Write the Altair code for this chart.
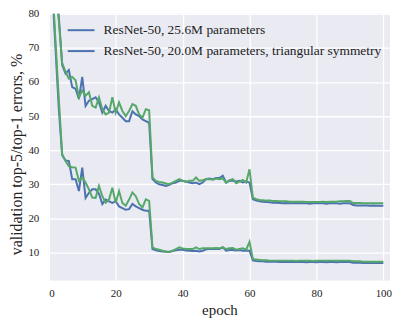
import altair as alt
import pandas as pd

epochs = list(range(1, 101))

models = ["ResNet-50, 25.6M parameters",
          "ResNet-50, 20.0M parameters, triangular symmetry"]

# top-1 error, baseline (blue)
top1_a = [95, 89, 79, 65, 62.5, 63.5, 58.5, 58, 55, 61.5,
          53, 54.5, 55, 55.5, 54, 51, 53, 51.5, 51, 52,
          50.5, 49.5, 48.5, 48.5, 51.4, 50.5, 50, 49, 48.5, 48,
          31.5, 30.5, 30, 29.8, 29.5, 29.8, 30.3, 30.5, 31, 31,
          30.8, 30.5, 30.3, 30.5, 30, 30.5, 31.5, 31.7, 31.5, 31.8,
          31.8, 32.5, 30.5, 31, 31, 30.8, 31, 30.5, 30.8, 30.5,
          25.6, 25.2, 25.0, 24.9, 24.8, 24.7, 24.6, 24.6, 24.5, 24.4,
          24.5, 24.4, 24.4, 24.5, 24.4, 24.4, 24.4, 24.3, 24.4, 24.4,
          24.4, 24.4, 24.3, 24.4, 24.4, 24.4, 24.3, 24.4, 24.4, 24.4,
          23.9, 23.8, 23.8, 23.8, 23.8, 23.7, 23.8, 23.7, 23.7, 23.7]

# top-1 error, triangular symmetry (green)
top1_b = [97, 88, 78, 65.5, 63, 61, 61.5, 60.5, 55.5, 57.5,
          56, 57, 53, 52.5, 55.5, 52, 50.5, 51, 55.5, 51,
          54, 51.5, 50, 51.5, 53.5, 53, 50.5, 49.5, 52, 51.7,
          32, 31, 30.7, 30.5, 30.2, 30, 30.5, 31, 31.5, 31,
          30.7, 31, 31, 32, 31, 31.2, 31.5, 31.5, 31.3, 31.7,
          31.5, 31.7, 30.5, 31.2, 31.5, 30.3, 30.8, 31.3, 30.5, 34.4,
          26.1, 25.6, 25.4, 25.3, 25.2, 25.2, 25.1, 25.1, 25.0, 25.0,
          25.0, 24.9, 24.9, 24.9, 24.9, 24.9, 24.8, 24.8, 24.8, 24.8,
          24.8, 24.9, 24.8, 24.9, 24.9, 24.9, 25.0, 25.0, 25.1, 25.1,
          24.5, 24.5, 24.5, 24.4, 24.4, 24.4, 24.4, 24.4, 24.4, 24.4]

# top-5 error, baseline (blue)
top5_a = [88, 70, 52, 38.5, 37, 36.8, 31.5, 31.5, 28, 34.9,
          26, 27.5, 28.5, 28.5, 27.2, 24.2, 25.5, 25, 24.5, 25,
          23.5, 23, 22.5, 22.7, 24.2, 23.5, 23, 22.5, 22.2, 22.2,
          11, 10.6, 10.4, 10.3, 10.2, 10.1, 10.4, 10.6, 10.8, 10.8,
          10.6, 10.5, 10.4, 10.5, 10.3, 10.5, 10.9, 11, 11, 11,
          11, 11.5, 10.5, 10.7, 10.7, 10.6, 10.7, 10.5, 10.6, 10.5,
          7.7, 7.5, 7.4, 7.4, 7.3, 7.3, 7.3, 7.3, 7.2, 7.2,
          7.2, 7.2, 7.2, 7.2, 7.2, 7.2, 7.1, 7.2, 7.2, 7.1,
          7.2, 7.2, 7.1, 7.2, 7.2, 7.1, 7.2, 7.2, 7.2, 7.2,
          7.0, 7.0, 7.0, 6.9, 7.0, 6.9, 6.9, 6.9, 6.9, 6.9]

# top-5 error, triangular symmetry (green)
top5_b = [90, 72, 55, 38.8, 36.8, 35.3, 35, 34.9, 31, 32,
          30.5, 28.5, 26.1, 26, 29.5, 26.5, 24.6, 25.5, 29, 24.6,
          28, 24.5, 23.7, 25.5, 27.6, 26.5, 24.2, 23.2, 25.6, 25.1,
          11.5, 11, 10.8, 10.5, 10.3, 10.2, 10.5, 11, 11.5, 11.2,
          11, 11, 11, 11.5, 11, 11.2, 11.2, 11.2, 11.2, 11.3,
          11.2, 11.5, 11, 11.2, 11.3, 10.8, 11, 11.2, 10.8, 13.1,
          8.1, 7.9, 7.8, 7.7, 7.7, 7.6, 7.6, 7.6, 7.6, 7.6,
          7.6, 7.6, 7.6, 7.5, 7.6, 7.6, 7.6, 7.6, 7.5, 7.6,
          7.6, 7.6, 7.6, 7.6, 7.6, 7.6, 7.6, 7.6, 7.6, 7.6,
          7.4, 7.4, 7.4, 7.3, 7.3, 7.3, 7.3, 7.3, 7.3, 7.3]

x_ticks = [0, 20, 40, 60, 80, 100]
y_ticks = [10, 20, 30, 40, 50, 60, 70, 80]

rows = []
for series, model, metric in [(top1_a, models[0], "top1"), (top5_a, models[0], "top5"),
                              (top1_b, models[1], "top1"), (top5_b, models[1], "top5")]:
    for e, v in zip(epochs, series):
        rows.append({"epoch": e, "error": v, "model": model, "metric": metric})
df = pd.DataFrame(rows)

FONT = "Liberation Serif"
BLUE = "#4C72B0"
GREEN = "#55A868"

x_enc = alt.X("epoch:Q", scale=alt.Scale(domain=[0, 102], nice=False, zero=False),
              axis=alt.Axis(values=x_ticks, title="epoch", format="d",
                            titleFontSize=15, labelOverlap=False))
y_enc = alt.Y("error:Q", scale=alt.Scale(domain=[1.8, 80], nice=False, zero=False),
              axis=alt.Axis(values=y_ticks, title="validation top-5/top-1 errors, %",
                            format="d", labelOverlap=False, titleFontSize=16, titleY=141))

lines = alt.Chart(df).mark_line(strokeWidth=2, clip=True).encode(
    x=x_enc,
    y=y_enc,
    color=alt.Color("model:N", scale=alt.Scale(domain=models, range=[BLUE, GREEN]), legend=None),
    detail="metric:N",
    order="epoch:Q",
)

legend_layer = alt.Chart(df).mark_line(strokeWidth=2, clip=True, strokeOpacity=0).encode(
    x=x_enc,
    y=y_enc,
    color=alt.Color("model:N", scale=alt.Scale(domain=models, range=[BLUE, BLUE]),
                    legend=alt.Legend(title=None, orient="none", legendX=18, legendY=2,
                                      symbolType="stroke", symbolSize=729,
                                      symbolStrokeWidth=2, symbolOpacity=1,
                                      symbolStrokeColor=BLUE,
                                      labelFont=FONT, labelFontSize=13.5, labelColor="#222222",
                                      rowPadding=-11, labelOffset=8, labelLimit=400)),
    detail="metric:N",
)

chart = alt.layer(lines, legend_layer).resolve_scale(color="independent").properties(
    width=343, height=268,
    background="white",
    padding={"left": 41, "top": 5, "right": 5, "bottom": 40},
    autosize=alt.AutoSizeParams(type="none"),
).configure_view(
    fill="#EAEAF2", stroke=None,
).configure_axis(
    grid=True, gridColor="white", gridWidth=1.3, domain=False, ticks=False,
    labelOverlap=False,
    labelFont=FONT, labelFontSize=11, labelColor="#222222",
    titleFont=FONT, titleFontWeight="normal", titleColor="#222222",
).configure_axisX(
    labelPadding=7, titlePadding=4,
).configure_axisY(
    labelPadding=10, titlePadding=3,
)

chart.save("out.html", embed_options={"renderer": "svg", "actions": False})
